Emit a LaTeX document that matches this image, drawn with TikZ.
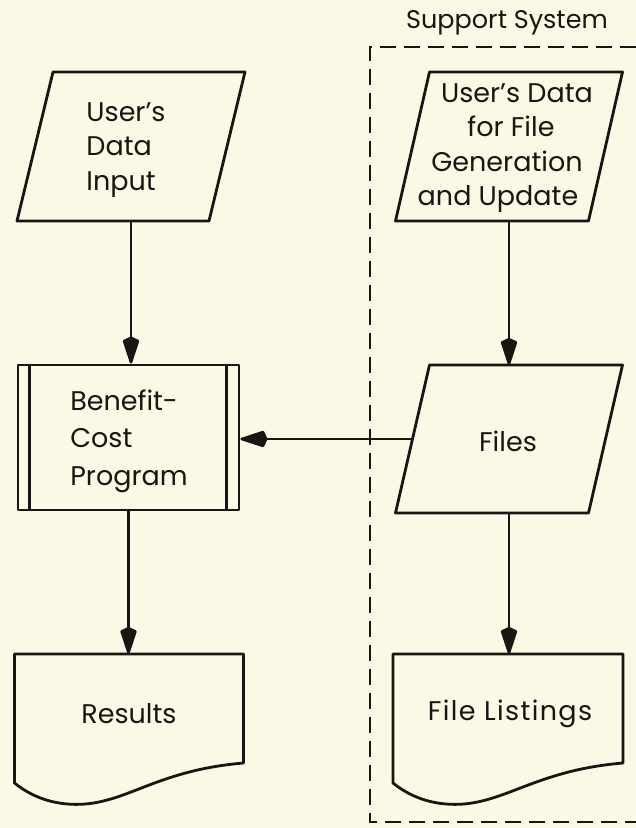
\documentclass[tikz,border=0pt]{standalone}
\usepackage{fontspec}
\setmainfont{Poppins}
\usetikzlibrary{arrows.meta,calc}
\definecolor{paper}{RGB}{252,248,230}
\definecolor{ink}{RGB}{26,20,18}
\newcommand\docpath[1]{%
  \draw[outline] (#1.south west) -- (#1.north west) -- (#1.north east)
    -- ($(#1.south east)+(0,-20)$)
    .. controls ($(#1.south east)+(-83,-13)$) and ($(#1.south west)+(116,17)$) .. ($(#1.south west)+(71,21)$)
    .. controls ($(#1.south west)+(46,23)$) and ($(#1.south west)+(21,17)$) .. (#1.south west) -- cycle;}
\newcommand\parapath[2]{%
  \draw[outline] ([xshift=#2]#1.north west) -- (#1.north east) -- ([xshift=-#2]#1.south east) -- (#1.south west) -- cycle;}
\begin{document}
\begin{tikzpicture}[x=1pt,y=-1pt,
  every node/.style={text=ink, font=\fontsize{27}{34.5}\selectfont},
  outline/.style={draw=ink, line width=2.8pt, line join=round},
  para/.style={rectangle, minimum width=228pt, minimum height=149pt, inner sep=0pt, outer sep=0pt},
  proc/.style={rectangle, outline, minimum width=221pt, minimum height=145pt},
  doc/.style={rectangle, minimum width=229pt, minimum height=129pt, inner sep=0pt, outer sep=0pt},
  arr/.style={draw=ink, line width=2.5pt, -{Kite[length=30pt,width=17pt,inset=4pt,round]}},
  frame/.style={draw=ink, line width=2.2pt, dash pattern=on 16pt off 8pt}]
\fill[paper] (0,0) rectangle (636,828);
\clip (0,0) rectangle (636,828);

\node[font=\fontsize{25.5}{30}\selectfont] (sup) at (507,23) {Support System};
\draw[frame] (660,47) -- (370,47) -- (370,822) -- (660,822);

\node[para] (inL) at (131,146.5) {};
\parapath{inL}{36pt}
\node[align=left] (inLt) at (126,150) {User's\\Data\\Input};

\node[para, minimum width=227pt] (inR) at (509,146.5) {};
\parapath{inR}{34pt}
\node[align=center] (inRt) at (507,148) {\hspace*{20pt}User's Data\\\hspace*{8pt}for File\\Generation\hspace*{12pt}\\and Update\hspace*{18pt}};

\node[proc] (prog) at (128.5,437.5) {};
\draw[outline] ([xshift=13pt]prog.north west) -- ([xshift=13pt]prog.south west);
\draw[outline] ([xshift=-14pt]prog.north east) -- ([xshift=-14pt]prog.south east);
\node[align=left, font=\fontsize{27}{37.5}\selectfont] (progt) at (129,441) {Benefit-\\Cost\\Program};

\node[para, minimum width=227pt, minimum height=148pt] (files) at (509,439) {};
\parapath{files}{34pt}
\node (filest) at (508,441) {Files};
\coordinate (fl) at ($([xshift=34pt]files.north west)!0.5!(files.south west)$);

\node[doc] (res) at (129,718.5) {};
\docpath{res}
\node (rest) at (129,714) {Results};

\node[doc, minimum width=230pt] (list) at (508,718.5) {};
\docpath{list}
\node[font=\fontsize{27}{34.5}\selectfont\addfontfeature{LetterSpace=5}] (listt) at (510,714) {File Listings};

\draw[arr] (inL.south) -- (inL.south |- prog.north);
\draw[arr] (inR.south) -- (inR.south |- files.north);
\draw[arr] (prog.south) -- (prog.south |- res.north);
\draw[arr] (files.south) -- (files.south |- list.north);
\draw[arr] (fl) -- (fl -| prog.east);
\end{tikzpicture}
\end{document}
